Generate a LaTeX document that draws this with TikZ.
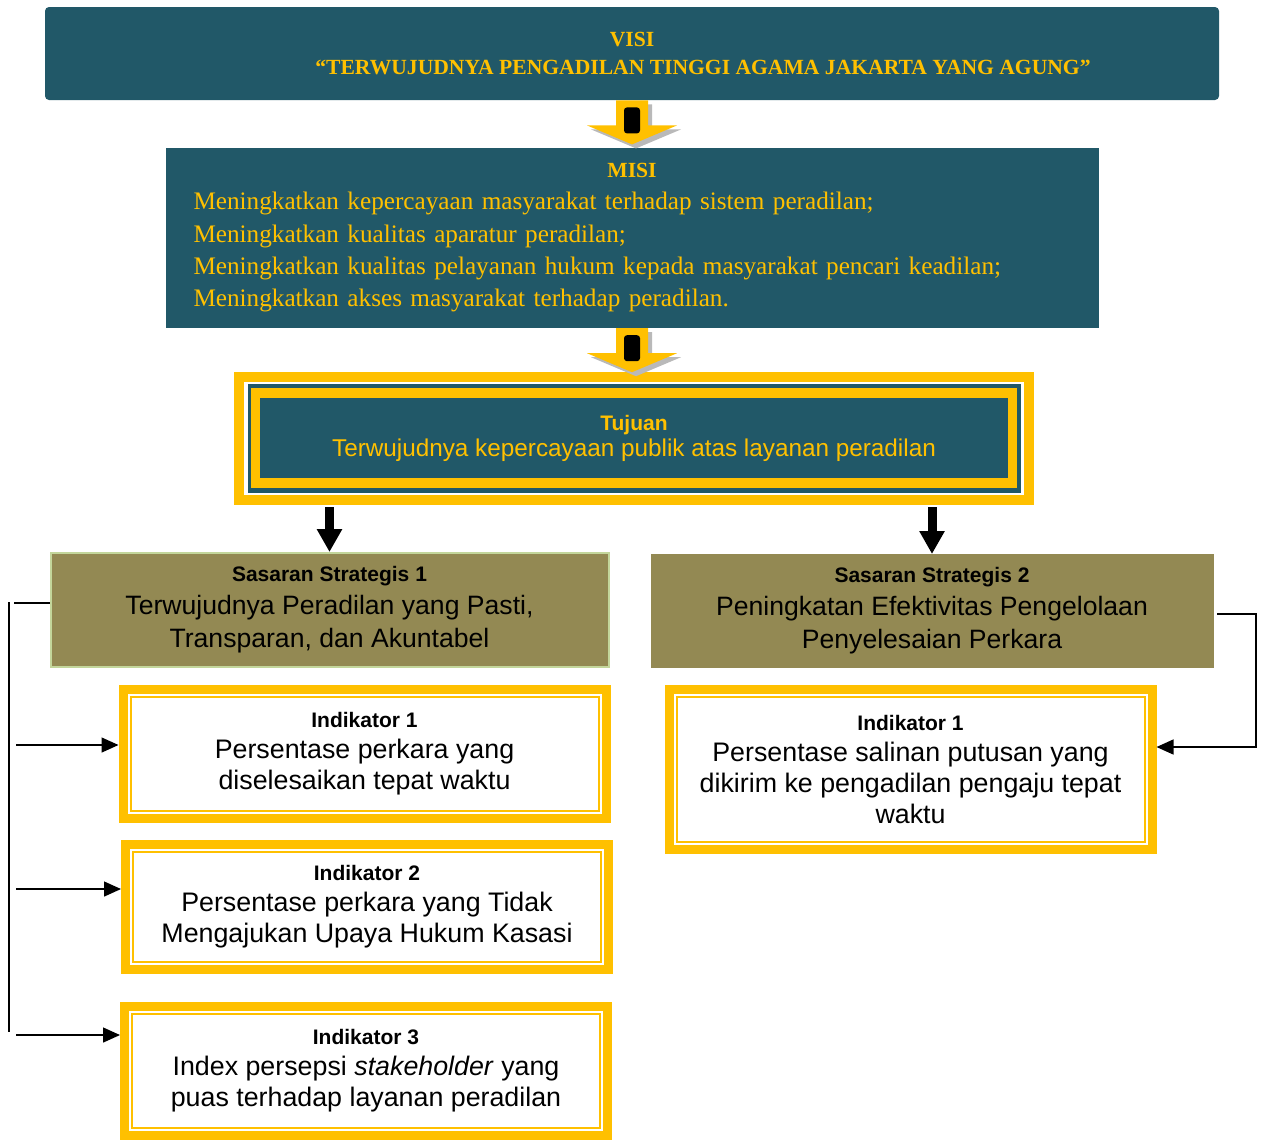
\documentclass[tikz,border=0pt]{standalone}
\usepackage{fontspec}
\setmainfont{Liberation Sans}
\newfontfamily\visifont{Liberation Serif}
\usetikzlibrary{positioning, arrows.meta}
\definecolor{tealbox}{HTML}{215868}
\definecolor{goldline}{HTML}{FFC000}
\definecolor{olivebox}{HTML}{938953}
\definecolor{olivedge}{HTML}{C3D69B}
\tikzstyle{visibox} = [rectangle, rounded corners=2pt, minimum width=587pt, minimum height=46.5pt, fill=tealbox, text=goldline, align=center, font=\visifont\bfseries\fontsize{10.8}{14}\selectfont]
\tikzstyle{misibox} = [rectangle, minimum width=466.5pt, minimum height=90pt, inner sep=0pt, text width=438.5pt, fill=tealbox, text=goldline, align=left, font=\visifont\fontsize{12.6}{16.15}\selectfont]
\tikzstyle{tujuanbox} = [rectangle, minimum width=386.5pt, minimum height=54.5pt, fill=tealbox, text=goldline, align=center, font=\fontsize{12.15}{13}\selectfont]
\tikzstyle{ssbox} = [rectangle, minimum width=279pt, minimum height=57pt, fill=olivebox, draw=olivedge, line width=1pt, align=center, font=\fontsize{13.3}{16.5}\selectfont]
\tikzstyle{indbox} = [rectangle, minimum width=241.5pt, minimum height=64.5pt, draw=goldline, line width=4.5pt, outer sep=2.25pt, fill=white, align=center, font=\fontsize{13.4}{15.5}\selectfont]
\tikzstyle{link} = [line width=0.7pt]
\tikzstyle{thinarrow} = [line width=0.7pt, -{Triangle[length=8.5pt,width=7.5pt]}]
\tikzstyle{bigarrow} = [line width=4.5pt, -{Triangle[length=11.5pt,width=12pt]}]
\newcommand{\boxhead}[1]{{\bfseries\fontsize{10.5}{12}\selectfont #1}}

\begin{document}
\begin{tikzpicture}[x=0.5pt, y=-0.5pt]
\useasboundingbox (0,0) rectangle (1262,1142);

\node (visi) [visibox] at (632,53.5) {VISI\\\hspace*{71pt}“TERWUJUDNYA PENGADILAN TINGGI AGAMA JAKARTA YANG AGUNG”};
\node (misi) [misibox, below=23.5pt of visi] {\makebox[438.5pt]{\bfseries\fontsize{10.8}{12}\selectfont MISI}\\
  Meningkatkan kepercayaan masyarakat terhadap sistem peradilan;\\
  Meningkatkan kualitas aparatur peradilan;\\
  Meningkatkan kualitas pelayanan hukum kepada masyarakat pencari keadilan;\\
  Meningkatkan akses masyarakat terhadap peradilan.};
\node (tujuan) [tujuanbox, below=27.5pt of misi, xshift=1pt] {\boxhead{Tujuan}\\Terwujudnya kepercayaan publik atas layanan peradilan};

\node (ss1) [ssbox, below=29.5pt of tujuan, xshift=-152.25pt] {\boxhead{Sasaran Strategis 1}\\Terwujudnya Peradilan yang Pasti,\\Transparan, dan Akuntabel};
\node (ss2) [ssbox, draw=olivebox, minimum width=280.5pt, minimum height=56pt, right=20.5pt of ss1, yshift=-0.5pt] {\boxhead{Sasaran Strategis 2}\\Peningkatan Efektivitas Pengelolaan\\Penyelesaian Perkara};

\node (ind1) [indbox, below=8.5pt of ss1, xshift=17.5pt] {\boxhead{Indikator 1}\\Persentase perkara yang\\diselesaikan tepat waktu};
\node (ind2) [indbox, minimum height=62.5pt, below=8.5pt of ind1, xshift=1.25pt] {\boxhead{Indikator 2}\\Persentase perkara yang Tidak\\Mengajukan Upaya Hukum Kasasi};
\node (ind3) [indbox, below=14pt of ind2, xshift=-0.5pt] {\boxhead{Indikator 3}\\Index persepsi \textit{stakeholder} yang\\puas terhadap layanan peradilan};
\node (ind4) [indbox, minimum height=80pt, below=8.5pt of ss2, xshift=-10.75pt] {\boxhead{Indikator 1}\\Persentase salinan putusan yang\\dikirim ke pengadilan pengaju tepat\\waktu};

% frames of Tujuan
\draw[goldline, line width=5pt] ([shift={(-4pt,-3.25pt)}]tujuan.south west) rectangle ([shift={(4pt,3.25pt)}]tujuan.north east);
\draw[goldline, line width=4.75pt] ([shift={(4.25pt,5pt)}]tujuan.south west) rectangle ([shift={(-4.25pt,-5pt)}]tujuan.north east);

% thin inner lines of the indicators
\foreach \n in {ind1,ind2,ind3,ind4}
  \draw[goldline, line width=1pt] ([shift={(6pt,6pt)}]\n.south west) rectangle ([shift={(-6pt,-6pt)}]\n.north east);

% block arrows
\foreach \n in {visi,misi} {
  \begin{scope}[shift={(\n.south)}]
    \fill[gray!55] (-12,4) -- (20,4) -- (20,29) -- (49,29) -- (4,48) -- (-41,29) -- (-12,29) -- cycle;
    \fill[goldline] (-16,0) -- (16,0) -- (16,25) -- (45,25) -- (0,44) -- (-45,25) -- (-16,25) -- cycle;
    \fill[black, rounded corners=1.5pt] (-8,7) -- (-8,33) -- (8,33) -- (8,7) -- cycle;
  \end{scope}
}

\coordinate (tb) at ([yshift=-7pt]tujuan.south);
\draw[bigarrow] (tb -| ss1.north) -- (ss1.north);
\draw[bigarrow] (tb -| ss2.north) -- (ss2.north);

% connectors
\coordinate (lh) at (14,603);
\coordinate (vtop) at (9,602);
\coordinate (vbot) at (9,1032);
\coordinate (a1) at (16,745);
\coordinate (a2) at (16,889);
\coordinate (a3) at (16,1035);
\draw[link] (lh) -- (lh -| ss1.west);
\draw[link] (vtop) -- (vbot);
\foreach \c/\n in {a1/ind1,a2/ind2,a3/ind3}
  \draw[thinarrow] (\c) -- (\c -| \n.west);
\coordinate (rh) at (1217,614);
\coordinate (rv) at (1256,747);
\draw[thinarrow] (rh) -| (rv) -- (rv -| ind4.east);

\end{tikzpicture}
\end{document}
